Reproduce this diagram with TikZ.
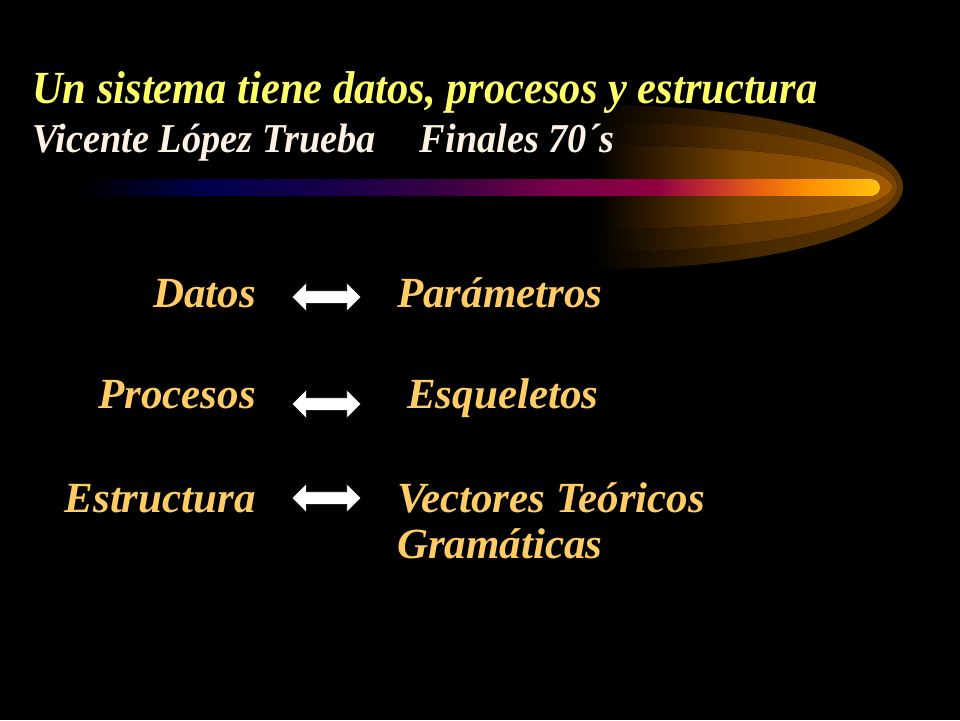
\documentclass[tikz,border=0pt]{standalone}
\usepackage{fontspec}
\setmainfont{Liberation Serif}
\usetikzlibrary{shapes.arrows}
\definecolor{titleyellow}{HTML}{FFFF66}
\definecolor{authorcream}{HTML}{FFF2E2}
\definecolor{labelgold}{HTML}{FFCC66}
\definecolor{glowouter}{HTML}{5E3600}
\definecolor{glowmiddle}{HTML}{7E4600}
\definecolor{glowinner}{HTML}{A45C00}
\definecolor{barnavy}{HTML}{00004E}
\definecolor{barindigo}{HTML}{16004A}
\definecolor{barplum}{HTML}{3A0042}
\definecolor{barmagenta}{HTML}{7A0048}
\definecolor{barcrimson}{HTML}{8E0040}
\definecolor{barred}{HTML}{C43030}
\definecolor{barorange}{HTML}{EA6210}
\definecolor{baramber}{HTML}{FF9200}
\definecolor{bargold}{HTML}{FFC210}
\pgfdeclarehorizontalshading{barshade}{100bp}{color(0bp)=(black); color(25bp)=(black);
  color(33bp)=(barnavy); color(40.6bp)=(barindigo); color(48bp)=(barplum);
  color(55bp)=(barmagenta); color(61bp)=(barcrimson); color(64.4bp)=(barred);
  color(67.5bp)=(barorange); color(70.6bp)=(baramber); color(75bp)=(bargold);
  color(100bp)=(bargold)}
\tikzset{
  titletext/.style={anchor=base west, inner sep=0pt, text=titleyellow,
    font=\fontsize{46}{50}\selectfont\bfseries\itshape},
  authortext/.style={anchor=base west, inner sep=0pt, text=authorcream,
    font=\fontsize{41}{46}\selectfont\bfseries\itshape},
  leftlabel/.style={anchor=base east, inner sep=0pt, text=labelgold,
    font=\fontsize{43}{48}\selectfont\bfseries\itshape},
  rightlabel/.style={leftlabel, anchor=base west},
  linkarrow/.style={double arrow, fill=white, draw=black, line width=0.6pt,
    inner xsep=0pt, inner ysep=6pt, minimum height=69pt,
    double arrow head extend=8pt},
  glowlayer/.style={left color=black, right color=#1, middle color=#1!75!black}
}
\begin{document}
\begin{tikzpicture}[x=1pt,y=-1pt]
  \useasboundingbox[fill=black] (0,0) rectangle (960,720);
  % glow behind the bar
  \fill[glowlayer=glowouter] (590,105) -- (600,105)
    arc[start angle=-90, end angle=90, x radius=303, y radius=82] -- (590,269) -- cycle;
  \fill[glowlayer=glowmiddle] (592,122) -- (600,122)
    arc[start angle=-90, end angle=90, x radius=297, y radius=65] -- (592,252) -- cycle;
  \fill[glowlayer=glowinner] (594,145) -- (600,145)
    arc[start angle=-90, end angle=90, x radius=292, y radius=42] -- (594,229) -- cycle;
  \fill[shading=barshade, rounded corners=8.5pt] (80,179) rectangle (880,196);
  % heading
  \node[titletext] (title) at (32,103) {\scalebox{0.924}[1]{Un sistema tiene datos, procesos y estructura}};
  \node[authortext] (author) at (32,152) {\scalebox{0.935}[1]{Vicente López Trueba\hspace{0.9em} Finales 70´s}};
  % rows
  \node[leftlabel] (dat) at (256,307) {Datos};
  \node[leftlabel] (pro) at (256,408) {Procesos};
  \node[leftlabel] (est) at (256,512) {Estructura};
  \node[rightlabel] (par) at (397,307) {Parámetros};
  \node[rightlabel] (esq) at (407,408) {Esqueletos};
  \node[rightlabel] (vec) at (397,512) {Vectores Teóricos};
  \node[rightlabel] (gra) at (397,558) {Gramáticas};
  \node[linkarrow] (dp) at (326.5,297) {};
  \node[linkarrow] (pe) at (326.5,404) {};
  \node[linkarrow] (ev) at (326.5,498) {};
\end{tikzpicture}
\end{document}
